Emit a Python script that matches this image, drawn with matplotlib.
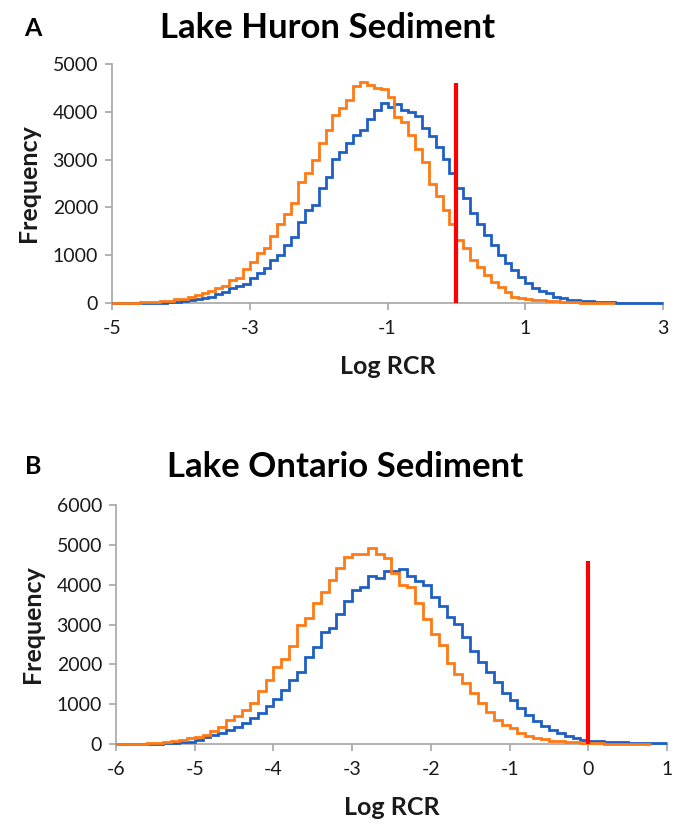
import numpy as np
import matplotlib
matplotlib.use("Agg")
import matplotlib.pyplot as plt

plt.rcParams['font.family'] = ['Lato', 'DejaVu Sans']

# ---------------- data ----------------
bin_width = 0.1

# Panel A: Lake Huron Sediment (bins start at -5.0)
huron_start = -5.0
huron_blue = [1, 1, 2, 3, 4, 5, 7,
              10, 15, 25, 49, 60, 91, 110, 132, 181, 237,
              307, 356, 397, 516, 621, 725, 900, 1004, 1213, 1388,
              1700, 1946, 2050, 2400, 2642, 3006, 3166, 3354, 3515, 3620,
              3843, 4038, 4191, 4107, 4163, 4038, 4003, 3912, 3655, 3494,
              3257, 3006, 2713,
              2399, 2190, 1876, 1653, 1423, 1213, 1004, 843, 690, 551,
              412, 321, 251, 202, 132, 98, 70, 55, 40, 32,
              25, 18, 14, 10, 8, 6, 5, 3, 2, 2]
huron_orange = [3, 5, 7, 10, 15, 22, 30,
                40, 49, 77, 91, 119, 167, 216, 251, 321, 363,
                481, 516, 704, 865, 1053, 1144, 1402, 1646, 1855, 2099,
                2530, 2713, 2990, 3340, 3620, 3930, 4070, 4250, 4540, 4630,
                4560, 4490, 4470, 4320, 3900, 3790, 3510, 3215, 2955, 2490,
                2240, 1945, 1650,
                1318, 1144, 900, 760, 585, 446, 341, 236, 132, 111,
                84, 70, 55, 42, 32, 25, 18, 14, 10, 8,
                6, 4, 3]
huron_xticks = [-5, -3, -1, 1, 3]
huron_yticks = [0, 1000, 2000, 3000, 4000, 5000]
huron_xlim = (-5, 3)

# Panel B: Lake Ontario Sediment (bins start at -6.0)
ontario_start = -6.0
ontario_blue = [0, 1, 2, 3, 5, 10, 18,
                30, 40, 59, 100, 168, 226, 285, 352, 435, 536,
                645, 771, 963, 1122, 1357, 1608, 1801, 2194, 2429, 2822,
                2906, 3266, 3601, 3869, 3936, 4221, 4162, 4355, 4355, 4383,
                4220, 4104, 3995, 3702, 3467, 3199, 3015, 2697, 2345, 2069,
                1817, 1566, 1290, 1106, 896, 729, 586, 452, 352, 268,
                201, 142, 100,
                84, 84, 59, 59, 40, 34, 30, 25, 20, 17]
ontario_orange = [3, 5, 8, 12, 20, 35, 55,
                  84, 100, 142, 184, 226, 327, 435, 603, 704, 854,
                  1022, 1340, 1608, 1943, 2127, 2471, 2990, 3158, 3534, 3827,
                  4121, 4414, 4690, 4774, 4774, 4916, 4774, 4665, 4288, 3995,
                  3936, 3551, 3132, 2755, 2487, 2044, 1759, 1541, 1273, 1022,
                  812, 603, 477, 394, 285, 201, 159, 117, 84, 67,
                  50, 38, 30,
                  22, 15, 12, 8, 6, 4, 3, 2]
ontario_xticks = [-6, -5, -4, -3, -2, -1, 0, 1]
ontario_yticks = [0, 1000, 2000, 3000, 4000, 5000, 6000]
ontario_xlim = (-6, 1)

threshold_x = 0
threshold_top = 4600

# ---------------- styling ----------------
BLUE = '#1f5fc4'
ORANGE = '#ff7a14'
RED = '#ff0000'
SPINE = '#a6a6a6'
TXT = '#1a1a1a'

W, H = 681, 825
fig = plt.figure(figsize=(W / 100, H / 100), dpi=100)


def px_axes(left, right, top, bottom):
    return fig.add_axes([left / W, 1 - bottom / H, (right - left) / W, (bottom - top) / H])


def edges(start, n):
    return start + bin_width * np.arange(n + 1)


def style(ax, xlim, ylim, xticks, yticks):
    ax.set_xlim(*xlim)
    ax.set_ylim(*ylim)
    ax.set_xticks(xticks)
    ax.set_yticks(yticks)
    ax.set_xticklabels([str(t) for t in xticks])
    ax.set_yticklabels([str(t) for t in yticks])
    for s in ('top', 'right'):
        ax.spines[s].set_visible(False)
    for s in ('left', 'bottom'):
        ax.spines[s].set_color(SPINE)
        ax.spines[s].set_linewidth(1.2)
        ax.spines[s].set_zorder(1)
    ax.tick_params(axis='both', colors=SPINE, labelcolor=TXT, labelsize=14,
                   length=5, width=1.2, direction='out')
    ax.tick_params(axis='x', pad=7)
    ax.tick_params(axis='y', pad=5)
    ax.set_xlabel('Log RCR', fontsize=18, fontweight='bold', color=TXT, labelpad=13)
    ax.set_ylabel('Frequency', fontsize=18, fontweight='bold', color=TXT, labelpad=9)


def draw(ax, start, blue, orange):
    ax.stairs(blue, edges(start, len(blue)), color=BLUE, linewidth=2.0, baseline=None,
              zorder=3, clip_on=False)
    ax.stairs(orange, edges(start, len(orange)), color=ORANGE, linewidth=2.0, baseline=None,
              zorder=4, clip_on=False)
    ax.plot([threshold_x, threshold_x], [0, threshold_top], color=RED, linewidth=3.0,
            solid_capstyle='butt', zorder=5)


# Panel A
axA = px_axes(112, 663, 64, 303)
draw(axA, huron_start, huron_blue, huron_orange)
style(axA, huron_xlim, (0, 5000), huron_xticks, huron_yticks)
fig.text(328 / W, 1 - 28 / H, 'Lake Huron Sediment', ha='center', va='center',
         fontsize=25, fontweight='bold', color='black')
fig.text(33 / W, 1 - 28 / H, 'A', ha='center', va='center',
         fontsize=18, fontweight='bold', color='black')

# Panel B
axB = px_axes(116, 667, 505, 744)
draw(axB, ontario_start, ontario_blue, ontario_orange)
style(axB, ontario_xlim, (0, 6000), ontario_xticks, ontario_yticks)
fig.text(345 / W, 1 - 467 / H, 'Lake Ontario Sediment', ha='center', va='center',
         fontsize=25, fontweight='bold', color='black')
fig.text(33 / W, 1 - 466 / H, 'B', ha='center', va='center',
         fontsize=18, fontweight='bold', color='black')

fig.savefig('out.png', dpi=100, facecolor='white')
